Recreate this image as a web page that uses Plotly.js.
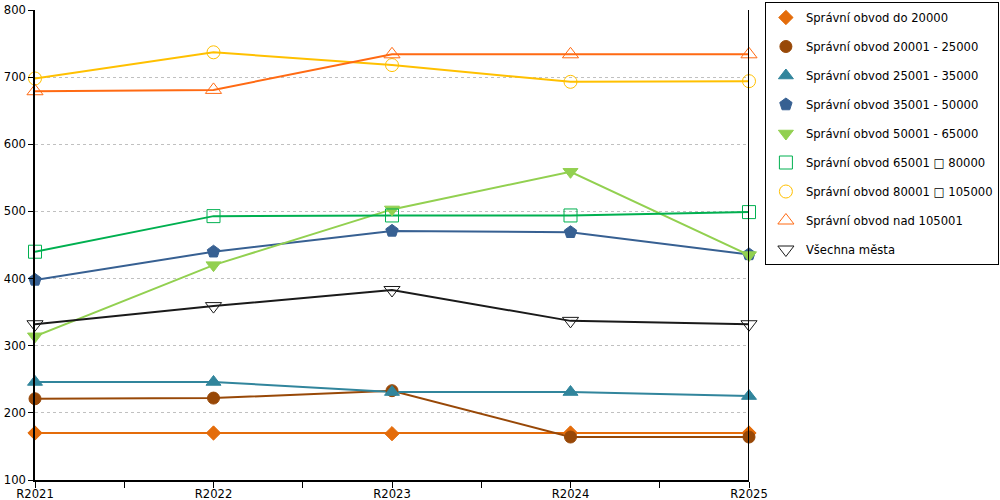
<!DOCTYPE html>
<html>
<head>
<meta charset="utf-8">
<script src="https://cdn.plot.ly/plotly-3.0.1.min.js"></script>
<style>
  html, body { margin: 0; padding: 0; background: #fff; }
  #graph { width: 1000px; height: 500px; }
</style>
</head>
<body>
<div id="graph"></div>
<script>
const years = ["R2021", "R2022", "R2023", "R2024", "R2025"];

const names = [
    "Správní obvod do 20000",
    "Správní obvod 20001 - 25000",
    "Správní obvod 25001 - 35000",
    "Správní obvod 35001 - 50000",
    "Správní obvod 50001 - 65000",
    "Správní obvod 65001 □ 80000",
    "Správní obvod 80001 □ 105000",
    "Správní obvod nad 105001",
    "Všechna města"
];

const do20000 = [170, 170, 169, 170, 170];
const obvod20001 = [221, 222, 233, 164, 164];
const obvod25001 = [246, 246, 231, 231, 225];
const obvod35001 = [398, 440, 471, 469, 436];
const obvod50001 = [314, 420, 503, 559, 435];
const obvod65001 = [440, 493, 494, 494, 499];
const obvod80001 = [698, 737, 718, 693, 694];
const nad105001 = [679, 681, 734, 734, 734];
const vsechnaMesta = [332, 359, 383, 337, 332];

const series = [do20000, obvod20001, obvod25001, obvod35001, obvod50001,
    obvod65001, obvod80001, nad105001, vsechnaMesta];

const colors = ["#E46C0A", "#984807", "#31859C", "#376092", "#92D050",
    "#00B050", "#FFC000", "#FF6A13", "#1a1a1a"];
const symbols = ["diamond", "circle", "triangle-up", "pentagon", "triangle-down",
    "square-open", "circle-open", "triangle-up-open", "triangle-down-open"];
const sizes = [11, 12, 13, 13, 13, 13, 13, 14, 14];

const xs = years.map((_, i) => i);

document.addEventListener("DOMContentLoaded", function () {
    const traces = [];
    series.forEach((vals, i) => {
        // line without legend entry
        traces.push({
            x: xs, y: vals, type: "scatter", mode: "lines",
            line: { color: colors[i], width: 2 },
            showlegend: false, hoverinfo: "skip", cliponaxis: false
        });
    });
    series.forEach((vals, i) => {
        // markers carry the legend entry
        traces.push({
            name: names[i], x: xs, y: vals, type: "scatter", mode: "markers",
            legendgroup: "g" + i,
            marker: {
                color: colors[i], symbol: symbols[i], size: sizes[i],
                line: { color: colors[i], width: 1 }
            },
            cliponaxis: false
        });
    });

    const layout = {
        width: 1000,
        height: 500,
        margin: { l: 35, r: 251, t: 10, b: 20, autoexpand: false },
        paper_bgcolor: "#ffffff",
        plot_bgcolor: "#ffffff",
        font: { family: "DejaVu Sans, Verdana, sans-serif", size: 12, color: "#000" },
        showlegend: true,
        legend: {
            x: 1.35, xanchor: "right",
            y: 1.017, yanchor: "top",
            bordercolor: "#000", borderwidth: 1,
            tracegroupgap: 10,
            itemwidth: 30,
            maxheight: 480,
            font: { size: 11.6 }
        },
        xaxis: {
            range: [0, 4],
            tickvals: xs,
            ticktext: years,
            showline: true, linecolor: "#000", linewidth: 1.5,
            ticks: "outside", ticklen: 6, tickcolor: "#000",
            minor: { dtick: 0.5, ticks: "outside", ticklen: 6, tickcolor: "#000", showgrid: false },
            showgrid: false, zeroline: false,
            ticklabelstandoff: -4,
            tickfont: { size: 11.6 }
        },
        yaxis: {
            range: [100, 800],
            dtick: 100,
            showline: true, linecolor: "#000", linewidth: 1.5,
            ticks: "outside", ticklen: 5, tickcolor: "#000",
            showgrid: true, gridcolor: "#c0c0c0", griddash: "dot", gridwidth: 1,
            zeroline: false,
            tickfont: { size: 11.6 }
        },
        shapes: [{
            type: "line", xref: "x", yref: "paper",
            x0: 4, x1: 4, y0: 0, y1: 1,
            line: { color: "#000", width: 2 }
        }]
    };

    Plotly.newPlot("graph", traces, layout, { displayModeBar: false });
});
</script>
</body>
</html>
